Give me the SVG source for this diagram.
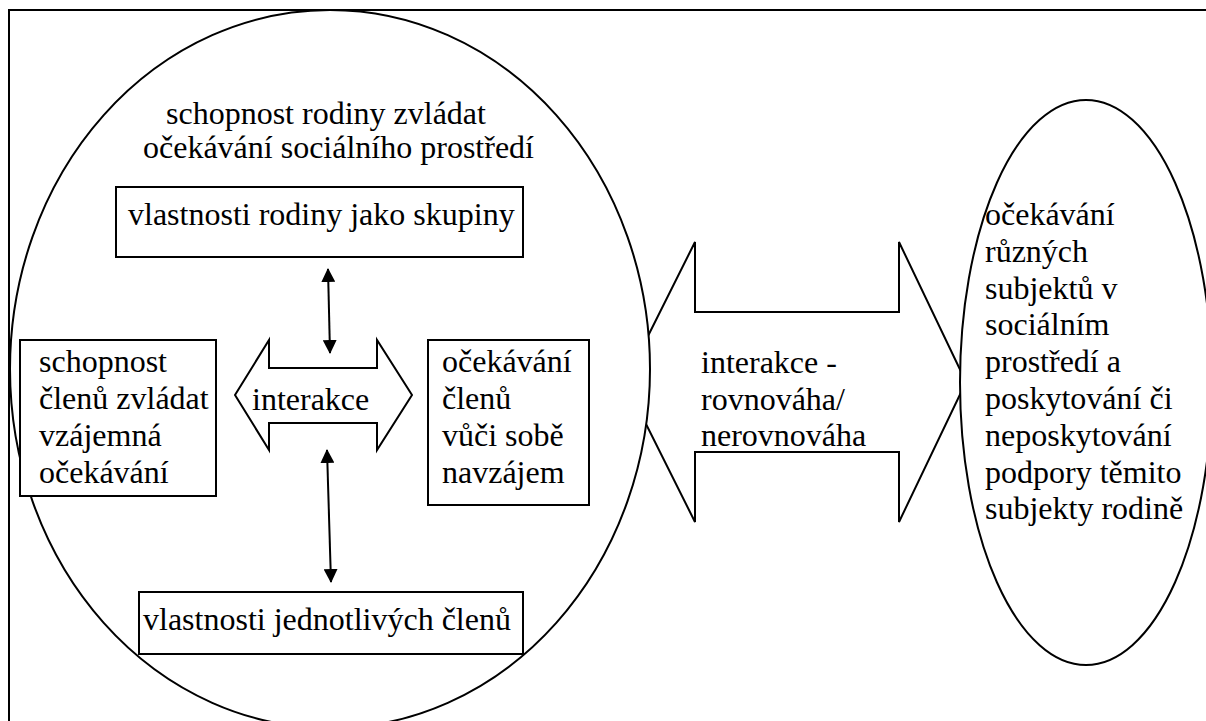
<svg xmlns="http://www.w3.org/2000/svg" width="1206" height="721" viewBox="0 0 1206 721">
<defs>
<marker id="ah" viewBox="0 0 14 14" refX="13" refY="7" markerWidth="14" markerHeight="14" markerUnits="userSpaceOnUse" orient="auto-start-reverse">
<path d="M0,0 L14,7 L0,14 Z" fill="#000"/>
</marker>
<style>
.ln{fill:none;stroke:#000;stroke-width:2}
.sh{fill:#fff;stroke:#000;stroke-width:2;stroke-linejoin:miter}
text{font-family:'Liberation Serif','Times New Roman',Tinos,serif;font-size:32px;fill:#000}
</style>
</defs>
<rect width="1206" height="721" fill="#fff"/>
<rect id="frame" class="ln" x="9" y="10" width="1230" height="800"/>
<g id="bigArrow">
<polygon class="sh" points="625,382 695,242 695,312 899,312 899,242 966,382 899,522 899,452 695,452 695,522"/>
</g>
<g id="family" font-family="Liberation Serif, serif" font-size="32">
<ellipse class="sh" cx="330" cy="369" rx="320" ry="359"/>
<text x="166" y="124">schopnost rodiny zvládat</text>
<text x="143" y="158">očekávání sociálního prostředí</text>
</g>
<g id="environment" font-family="Liberation Serif, serif" font-size="32">
<ellipse class="sh" cx="1086" cy="382.5" rx="126" ry="282.5"/>
<text>
<tspan x="985" y="225">očekávání</tspan>
<tspan x="985" y="262">různých</tspan>
<tspan x="985" y="299">subjektů v</tspan>
<tspan x="985" y="335">sociálním</tspan>
<tspan x="985" y="372">prostředí a</tspan>
<tspan x="985" y="409">poskytování či</tspan>
<tspan x="985" y="446">neposkytování</tspan>
<tspan x="985" y="483">podpory těmito</tspan>
<tspan x="985" y="519">subjekty rodině</tspan>
</text>
</g>
<g id="bigArrowLabel" font-family="Liberation Serif, serif" font-size="32">
<text>
<tspan x="701" y="373">interakce -</tspan>
<tspan x="701" y="410">rovnováha/</tspan>
<tspan x="701" y="446">nerovnováha</tspan>
</text>
</g>
<g id="groupProps" font-family="Liberation Serif, serif" font-size="32">
<rect class="sh" x="116" y="187" width="407" height="70"/>
<text x="128" y="225">vlastnosti rodiny jako skupiny</text>
</g>
<g id="membersAbility" font-family="Liberation Serif, serif" font-size="32">
<rect class="sh" x="20" y="340" width="196" height="156"/>
<text>
<tspan x="39" y="372">schopnost</tspan>
<tspan x="39" y="409">členů zvládat</tspan>
<tspan x="39" y="446">vzájemná</tspan>
<tspan x="39" y="483">očekávání</tspan>
</text>
</g>
<g id="membersExpect" font-family="Liberation Serif, serif" font-size="32">
<rect class="sh" x="428" y="340" width="161" height="165"/>
<text>
<tspan x="442" y="372">očekávání</tspan>
<tspan x="442" y="409">členů</tspan>
<tspan x="442" y="446">vůči sobě</tspan>
<tspan x="442" y="483">navzájem</tspan>
</text>
</g>
<g id="interaction" font-family="Liberation Serif, serif" font-size="32">
<polygon class="sh" points="235,395 269,340 269,368 377,368 377,340 412,395 377,450 377,423 269,423 269,450"/>
<text x="252" y="410">interakce</text>
</g>
<g id="memberProps" font-family="Liberation Serif, serif" font-size="32">
<rect class="sh" x="139" y="592" width="384" height="62"/>
<text x="143" y="630">vlastnosti jednotlivých členů</text>
</g>
<g id="connectors">
<line class="ln" x1="328" y1="269" x2="330" y2="353" marker-start="url(#ah)" marker-end="url(#ah)"/>
<line class="ln" x1="327" y1="450" x2="331" y2="582" marker-start="url(#ah)" marker-end="url(#ah)"/>
</g>
</svg>
